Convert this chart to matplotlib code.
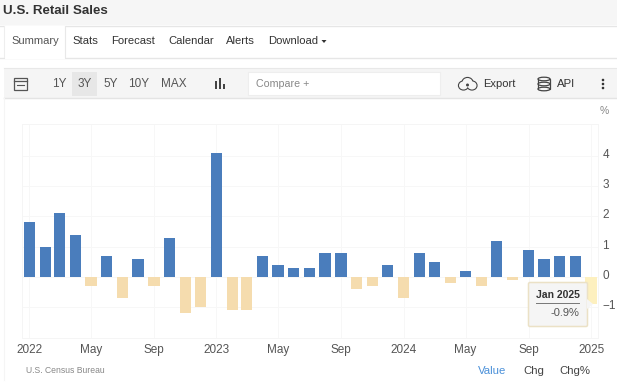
import pandas as pd
import matplotlib
matplotlib.use("Agg")
import matplotlib.pyplot as plt
from matplotlib.patches import Rectangle, FancyBboxPatch, Polygon, Ellipse
from matplotlib.transforms import ScaledTranslation

plt.rcParams["font.family"] = ["Liberation Sans", "DejaVu Sans"]

# Monthly change, Jan 2022 - Jan 2025
months = ["2022-01", "2022-02", "2022-03", "2022-04", "2022-05", "2022-06",
          "2022-07", "2022-08", "2022-09", "2022-10", "2022-11", "2022-12",
          "2023-01", "2023-02", "2023-03", "2023-04", "2023-05", "2023-06",
          "2023-07", "2023-08", "2023-09", "2023-10", "2023-11", "2023-12",
          "2024-01", "2024-02", "2024-03", "2024-04", "2024-05", "2024-06",
          "2024-07", "2024-08", "2024-09", "2024-10", "2024-11", "2024-12",
          "2025-01"]
values = [1.8, 1.0, 2.1, 1.4, -0.3, 0.7, -0.7, 0.6, -0.3, 1.3, -1.2, -1.0,
          4.1, -1.1, -1.1, 0.7, 0.4, 0.3, 0.3, 0.8, 0.8, -0.4, -0.3, 0.4,
          -0.7, 0.8, 0.5, -0.2, 0.2, -0.3, 1.2, -0.1, 0.9, 0.6, 0.7, 0.7, -0.9]
tick_dates = ["2022-01", "2022-05", "2022-09", "2023-01", "2023-05", "2023-09",
              "2024-01", "2024-05", "2024-09", "2025-01"]
tick_labels = ["2022", "May", "Sep", "2023", "May", "Sep", "2024", "May", "Sep", "2025"]
y_ticks = [-1, 0, 1, 2, 3, 4]
toolbar_ranges = ["1Y", "3Y", "5Y", "10Y", "MAX"]
range_x = [59, 85, 111, 139, 174]
tabs = ["Stats", "Forecast", "Calendar", "Alerts", "Download"]
tab_x = [72, 111, 168, 226, 268]

W, H = 617, 383
fig = plt.figure(figsize=(W / 100, H / 100), dpi=100, facecolor="white")

# page furniture drawn in pixel coordinates
ui = fig.add_axes([0, 0, 1, 1], zorder=0)
ui.set_xlim(0, W)
ui.set_ylim(H, 0)
ui.axis("off")

ui.add_patch(Rectangle((0, 0), W, 25, fc="#f6f6f6", ec="none"))
ui.plot([0, W], [25.5, 25.5], color="#e6e6e6", lw=1)
ui.plot([0, W], [57.5, 57.5], color="#e6e6e6", lw=1)
ui.add_patch(Rectangle((4.5, 26), 60, 33, fc="white", ec="none", zorder=3))
ui.plot([4, 4], [26, 57], color="#eeeeee", lw=0.8, zorder=4)
ui.plot([65, 65], [26, 57], color="#e8e8e8", lw=0.8, zorder=4)
ui.add_patch(Rectangle((4, 68), W - 4, 30, fc="#f5f5f5", ec="none"))
ui.plot([4, W], [68, 68], color="#e8e8e8", lw=0.8)
ui.plot([4, W], [97.5, 97.5], color="#e4e4e4", lw=1)
ui.plot([4, 4], [98, 380], color="#f5f5f5", lw=0.8)

ui.text(3, 11, "U.S. Retail Sales", fontsize=9.6, fontweight="bold", color="#333333", va="center")
ui.text(11.5, 41.5, "Summary", fontsize=8, color="#555555", va="center", zorder=5)
for label, x in zip(tabs, tab_x):
    ui.text(x, 41.5, label, fontsize=8.1, color="#333333", va="center")
ui.add_patch(Polygon([[321.5, 40], [326.5, 40], [324, 43]], fc="#333333", ec="none"))

# toolbar
ui.add_patch(Rectangle((72, 72), 25, 24, fc="#e7e7e7", ec="none"))
for label, x in zip(toolbar_ranges, range_x):
    ui.text(x, 84, label, fontsize=8.5, color="#555555", ha="center", va="center")
ui.add_patch(Rectangle((14, 78), 12.5, 12, fc="none", ec="#555555", lw=0.9))
ui.plot([14, 26.5], [80.5, 80.5], color="#555555", lw=0.9)
ui.plot([17, 18.5], [84.5, 84.5], color="#555555", lw=0.8)
ui.plot([19.7, 21.2], [84.5, 84.5], color="#555555", lw=0.8)
ui.plot([22.4, 23.9], [84.5, 84.5], color="#555555", lw=0.8)
ui.add_patch(Rectangle((215, 81), 1.6, 8, fc="#444444", ec="none"))
ui.add_patch(Rectangle((219, 78), 1.6, 11, fc="#444444", ec="none"))
ui.add_patch(Rectangle((223, 84), 1.6, 5, fc="#444444", ec="none"))
ui.add_patch(Rectangle((248, 72), 192, 23, fc="white", ec="#eeeeee", lw=0.8))
ui.text(256, 84, "Compare +", fontsize=7.7, color="#888888", va="center")

# cloud: outlined lobes, then the same lobes filled to hide the inner strokes
lobes = [((463.5, 85.5), 9, 8), ((472, 85.5), 9, 8), ((467.5, 82.5), 10, 9)]
for xy, w, h in lobes:
    ui.add_patch(Ellipse(xy, w, h, fc="none", ec="#444444", lw=1.6))
for xy, w, h in lobes:
    ui.add_patch(Ellipse(xy, w, h, fc="#f5f5f5", ec="none"))
ui.add_patch(Ellipse((467.5, 85), 3, 3, fc="#444444", ec="none"))
ui.text(483, 84, "Export", fontsize=8, color="#333333", va="center")

# database icon
ui.add_patch(Rectangle((538, 79), 12, 10, fc="none", ec="#444444", lw=0.9))
for y in [79, 84, 89]:
    ui.add_patch(Ellipse((544, y), 12, 3.6, fc="#f5f5f5", ec="#444444", lw=0.9))
ui.text(557, 84, "API", fontsize=8.2, color="#333333", va="center")
for y in [80, 84, 88]:
    ui.add_patch(Ellipse((603, y), 2.6, 2.6, fc="#333333", ec="none"))

# chart
ax = fig.add_axes([21.7 / W, 1 - 337.5 / H, (598.3 - 21.7) / W, (337.5 - 124) / H], zorder=1)
ax.patch.set_alpha(0)
dates = pd.to_datetime(months)
colors = ["#4a7dbc" if v >= 0 else "#f5dcae" for v in values]
colors[-1] = "#fdf0bf"
ax.bar(dates, values, width=22, color=colors, zorder=3)
ax.set_xlim(pd.Timestamp("2021-12-17"), pd.Timestamp("2025-01-15"))
ax.set_ylim(-2, 5.05)
ax.set_xticks(pd.to_datetime(tick_dates))
ax.set_xticklabels(tick_labels)
ax.set_yticks(y_ticks)
ax.yaxis.tick_right()
ax.tick_params(length=0, labelsize=8.5, labelcolor="#555555")
ax.tick_params(axis="x", pad=5)
ax.tick_params(axis="y", pad=3)
# value labels sit a little above their grid lines
for label in ax.get_yticklabels():
    label.set_transform(label.get_transform() + ScaledTranslation(0, 2.5 / 100, fig.dpi_scale_trans))
ax.grid(True, color="#f7f7f7", lw=0.7, zorder=0)
for spine in ax.spines.values():
    spine.set_color("#f5f5f5")
    spine.set_linewidth(0.7)

# overlay for text and tooltip above the chart
top = fig.add_axes([0, 0, 1, 1], zorder=2)
top.set_xlim(0, W)
top.set_ylim(H, 0)
top.axis("off")
top.patch.set_alpha(0)

top.text(604, 111, "%", fontsize=7.5, color="#888888", ha="center", va="center")
top.text(26, 370.5, "U.S. Census Bureau", fontsize=6.2, color="#888888", va="center")
top.text(492, 370.5, "Value", fontsize=8.2, color="#4a90d9", ha="center", va="center")
top.text(534, 370.5, "Chg", fontsize=8.2, color="#444444", ha="center", va="center")
top.text(575, 370.5, "Chg%", fontsize=8.2, color="#444444", ha="center", va="center")

top.add_patch(FancyBboxPatch((528.5, 282.5), 59, 44, boxstyle="round,pad=0,rounding_size=1.5",
                             fc="#f5f5f5", ec="#ebe1c6", lw=1.1))
top.add_patch(Polygon([[587, 299], [593, 304], [587, 309]], fc="#f5f5f5", ec="none"))
top.text(557.5, 295, "Jan 2025", fontsize=7.5, fontweight="bold", color="#333333", ha="center", va="center")
top.plot([536, 579], [302.5, 302.5], color="#777777", lw=0.7)
top.text(579, 313.5, "-0.9%", fontsize=8, color="#555555", ha="right", va="center")

fig.savefig("out.png", dpi=100)
